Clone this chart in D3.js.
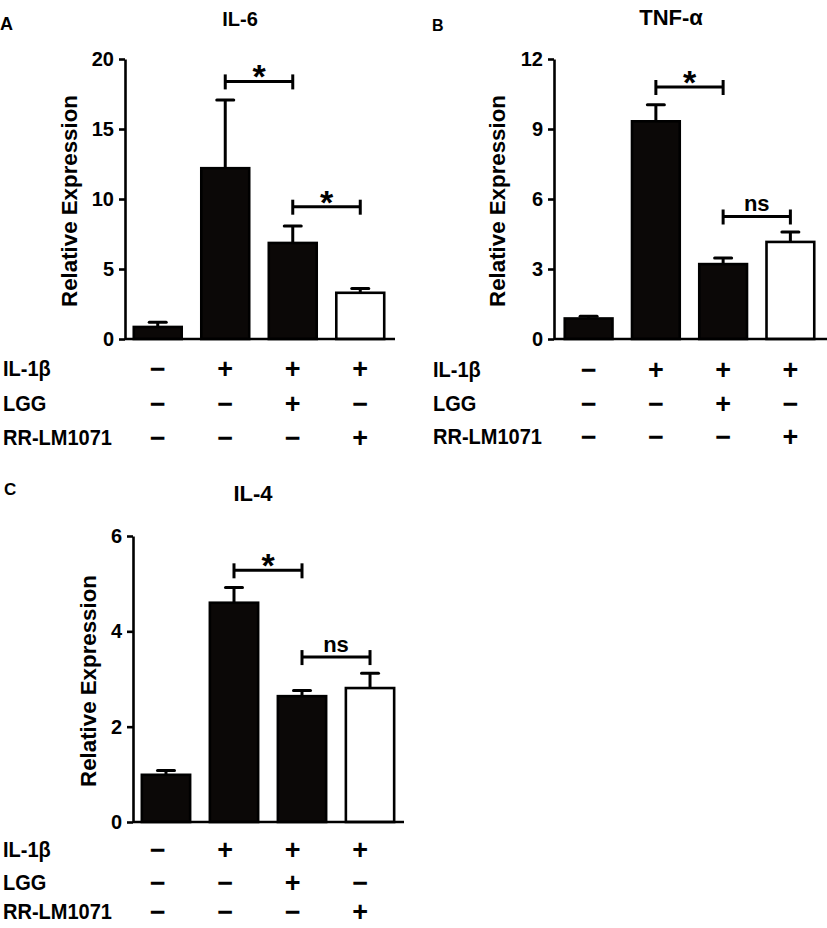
<!DOCTYPE html>
<html><head><meta charset="utf-8">
<script src="https://cdn.jsdelivr.net/npm/d3@7"></script>
<style>
body{margin:0;background:#fff}
svg{display:block}
text{font-family:"Liberation Sans",Arial,sans-serif;font-weight:bold;fill:#000}
</style>
</head><body><svg id="c" width="827" height="928"></svg>
<script>
// ---------- data ----------
const categories = ["Control", "IL-1β", "IL-1β+LGG", "IL-1β+RR-LM1071"];
const barFills = ["#0b0807", "#0b0807", "#0b0807", "#ffffff"];

const il6Mean = [0.86, 12.2, 6.86, 3.3];
const il6Err  = [0.34, 4.87, 1.21, 0.3];
const il6Ticks = [0, 5, 10, 15, 20];
const il6Sig = [{a: 1, b: 2, label: "*", level: 18.4}, {a: 2, b: 3, label: "*", level: 9.45}];

const tnfMean = [0.88, 9.33, 3.21, 4.16];
const tnfErr  = [0.09, 0.71, 0.26, 0.43];
const tnfTicks = [0, 3, 6, 9, 12];
const tnfSig = [{a: 1, b: 2, label: "*", level: 10.8}, {a: 2, b: 3, label: "ns", level: 5.25}];

const il4Mean = [0.99, 4.6, 2.64, 2.81];
const il4Err  = [0.09, 0.32, 0.12, 0.31];
const il4Ticks = [0, 2, 4, 6];
const il4Sig = [{a: 1, b: 2, label: "*", level: 5.28}, {a: 2, b: 3, label: "ns", level: 3.46}];

const rowLabels = ["IL-1β", "LGG", "RR-LM1071"];
const il1bSigns = ["−", "+", "+", "+"];
const lggSigns  = ["−", "−", "+", "−"];
const rrSigns   = ["−", "−", "−", "+"];
const signRows = [il1bSigns, lggSigns, rrSigns];

const yLabel = "Relative Expression";

// ---------- layout ----------
const svg = d3.select("#c");

const panels = [
  {letter: "A", letterX: 0, letterY: 30, letterSize: 18,
   title: "IL-6", titleX: 240, titleY: 26, titleSize: 20,
   mean: il6Mean, err: il6Err, ticks: il6Ticks, sig: il6Sig,
   axisX: 125, yTop: 59, yBot: 339, band: [125, 393], axisEnd: 395,
   ylabX: 77, ylabSize: 23, table: [125, 393], tableLabelX: 3, rowY: [376, 411, 445]},
  {letter: "B", letterX: 432, letterY: 31, letterSize: 16,
   title: "TNF-α", titleX: 671, titleY: 25, titleSize: 22,
   mean: tnfMean, err: tnfErr, ticks: tnfTicks, sig: tnfSig,
   axisX: 554, yTop: 59, yBot: 339, band: [556, 823], axisEnd: 827,
   ylabX: 505, ylabSize: 23, table: [556, 823], tableLabelX: 433, rowY: [377, 411, 444]},
  {letter: "C", letterX: 4, letterY: 495, letterSize: 17,
   title: "IL-4", titleX: 253, titleY: 501, titleSize: 22,
   mean: il4Mean, err: il4Err, ticks: il4Ticks, sig: il4Sig,
   axisX: 133, yTop: 536, yBot: 822, band: [133, 403], axisEnd: 404,
   ylabX: 96, ylabSize: 23, table: [125, 393], tableLabelX: 3, rowY: [857, 890, 919]}
];

panels.forEach(p => {
  const g = svg.append("g");
  const idx = d3.range(categories.length);
  const y = d3.scaleLinear().domain([p.ticks[0], p.ticks[p.ticks.length - 1]]).range([p.yBot, p.yTop]);
  const x = d3.scaleBand().domain(idx).range(p.band).paddingInner(0.29).paddingOuter(0.13);
  const xt = d3.scaleBand().domain(idx).range(p.table).paddingInner(0.29).paddingOuter(0.13);
  const cx = i => x(i) + x.bandwidth() / 2;

  // panel letter & title
  g.append("text").attr("x", p.letterX).attr("y", p.letterY)
    .style("font-size", p.letterSize + "px").text(p.letter);
  g.append("text").attr("x", p.titleX).attr("y", p.titleY).attr("text-anchor", "middle")
    .style("font-size", p.titleSize + "px").text(p.title);

  // error bars (upper only)
  idx.forEach(i => {
    const top = y(p.mean[i] + p.err[i]);
    g.append("line").attr("x1", cx(i)).attr("x2", cx(i))
      .attr("y1", y(p.mean[i])).attr("y2", top)
      .attr("stroke", "#000").attr("stroke-width", 3);
    g.append("line").attr("x1", cx(i) - 8.5).attr("x2", cx(i) + 8.5)
      .attr("y1", top).attr("y2", top)
      .attr("stroke", "#000").attr("stroke-width", 3).attr("stroke-linecap", "round");
  });

  // bars
  g.selectAll("rect.bar").data(idx).enter().append("rect")
    .attr("class", "bar")
    .attr("x", i => x(i)).attr("width", x.bandwidth())
    .attr("y", i => y(p.mean[i])).attr("height", i => p.yBot - y(p.mean[i]))
    .attr("fill", i => barFills[i]).attr("stroke", "#000").attr("stroke-width", 2.6);

  // y axis
  const ax = g.append("g").attr("transform", `translate(${p.axisX},0)`)
    .call(d3.axisLeft(y).tickValues(p.ticks).tickFormat(d3.format("d"))
      .tickSize(6).tickSizeOuter(0).tickPadding(5));
  ax.select(".domain").attr("stroke", "#000").attr("stroke-width", 2.6);
  ax.selectAll(".tick line").attr("stroke", "#000").attr("stroke-width", 2.6);
  ax.selectAll(".tick text").attr("fill", "#000")
    .style("font-size", "20px").style("font-family", '"Liberation Sans",Arial,sans-serif')
    .style("font-weight", "bold");

  // x axis baseline
  g.append("line").attr("x1", p.axisX).attr("x2", p.axisEnd)
    .attr("y1", p.yBot).attr("y2", p.yBot)
    .attr("stroke", "#000").attr("stroke-width", 2.6);

  // y label
  g.append("text")
    .attr("transform", `translate(${p.ylabX},${(p.yTop + p.yBot) / 2 + 2}) rotate(-90) scale(0.97,1)`)
    .attr("text-anchor", "middle")
    .style("font-size", p.ylabSize + "px").text(yLabel);

  // significance brackets
  p.sig.forEach(s => {
    const ly = y(s.level), x1 = cx(s.a), x2 = cx(s.b);
    g.append("line").attr("x1", x1).attr("x2", x2).attr("y1", ly).attr("y2", ly)
      .attr("stroke", "#000").attr("stroke-width", 3);
    [x1, x2].forEach(xx => g.append("line").attr("x1", xx).attr("x2", xx)
      .attr("y1", ly - 7).attr("y2", ly + 8)
      .attr("stroke", "#000").attr("stroke-width", 3));
    if (s.label === "*") {
      g.append("text").attr("x", (x1 + x2) / 2).attr("y", ly + 7).attr("text-anchor", "middle")
        .style("font-size", "34px").text(s.label);
    } else {
      g.append("text").attr("x", (x1 + x2) / 2).attr("y", ly - 5.5).attr("text-anchor", "middle")
        .style("font-size", "22px").text(s.label);
    }
  });

  // treatment table
  rowLabels.forEach((lab, r) => {
    g.append("text").attr("transform", `translate(${p.tableLabelX},${p.rowY[r]}) scale(0.91,1)`)
      .style("font-size", "22px").text(lab);
    signRows[r].forEach((s, i) => {
      g.append("text").attr("x", xt(i) + xt.bandwidth() / 2).attr("y", p.rowY[r] + 2)
        .attr("text-anchor", "middle").style("font-size", "27px").text(s);
    });
  });
});
</script>
</body></html>
